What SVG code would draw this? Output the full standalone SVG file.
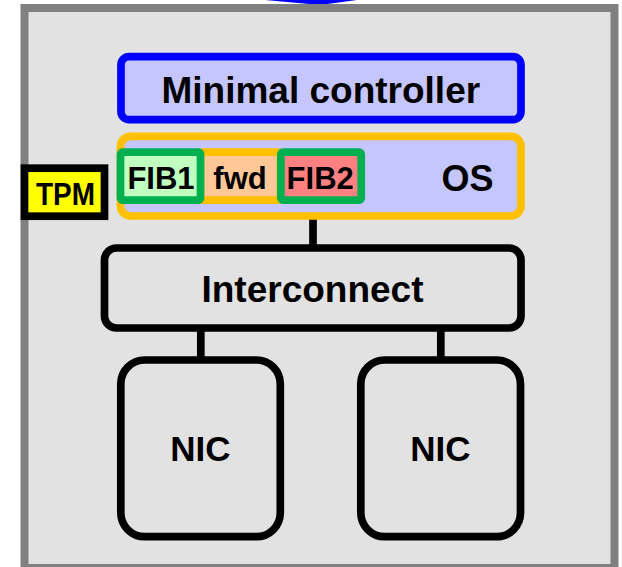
<svg xmlns="http://www.w3.org/2000/svg" width="622" height="567" viewBox="0 0 622 567">
  <style>
    text { font-family: "Liberation Sans", Arial, sans-serif; font-weight: bold; fill: #000; text-anchor: middle; }
    .link { stroke: #000; stroke-width: 7.7; fill: none; }
    .box { stroke-width: 7.7; }
    .plain { fill: #e2e2e2; stroke: #000; }
  </style>

  <!-- incoming arrow tip above the host -->
  <polygon id="arrow-tip" points="265,-2 265,0 320,5 357,0 357,-2" fill="#0000ff"/>

  <!-- host enclosure -->
  <g id="host">
    <rect x="24.5" y="8" width="590" height="560" fill="#e2e2e2" stroke="#808080" stroke-width="8"/>
  </g>

  <!-- connectors -->
  <g id="connectors">
    <line class="link" x1="313" y1="216" x2="313" y2="250"/>
    <line class="link" x1="200.8" y1="326" x2="200.8" y2="362"/>
    <line class="link" x1="440.8" y1="326" x2="440.8" y2="362"/>
  </g>

  <g id="controller">
    <rect class="box" x="121" y="56.7" width="400" height="63" rx="8" fill="#c6c6fe" stroke="#0000ff"/>
    <text x="320.8" y="103.3" font-size="37">Minimal controller</text>
  </g>

  <g id="os">
    <rect class="box" x="120.5" y="136.3" width="400.5" height="79.7" rx="10" fill="#c6c6fe" stroke="#ffc000" stroke-width="7.4"/>
    <text x="467.5" y="190.5" font-size="36">OS</text>
  </g>

  <g id="fwd">
    <rect class="box" x="200.5" y="152.2" width="80" height="48" rx="2" fill="#ffc896" stroke="#ffc000"/>
    <text x="240" y="189.3" font-size="31">fwd</text>
  </g>

  <g id="fib1">
    <rect class="box" x="120.5" y="152.2" width="80" height="48" rx="2" fill="#c0ffc0" stroke="#00b050"/>
    <text x="161" y="189.3" font-size="31">FIB1</text>
  </g>

  <g id="fib2">
    <rect class="box" x="280.9" y="152.2" width="80.3" height="48" rx="2" fill="#ff8080" stroke="#00b050"/>
    <text x="320.2" y="189.3" font-size="31">FIB2</text>
  </g>

  <g id="tpm">
    <rect class="box" x="24.5" y="168.2" width="80" height="48" fill="#ffff00" stroke="#000"/>
    <text x="65.5" y="205" font-size="32" textLength="59" lengthAdjust="spacingAndGlyphs">TPM</text>
  </g>

  <g id="interconnect">
    <rect class="box plain" x="104.5" y="248" width="416.5" height="80" rx="12"/>
    <text x="312.5" y="301.7" font-size="37">Interconnect</text>
  </g>

  <g id="nic-left">
    <rect class="box plain" x="120.8" y="360" width="159.5" height="176.7" rx="24"/>
    <text x="200.4" y="461" font-size="35">NIC</text>
  </g>

  <g id="nic-right">
    <rect class="box plain" x="360.8" y="360" width="159.7" height="176.7" rx="24"/>
    <text x="440.4" y="461" font-size="35">NIC</text>
  </g>
</svg>
